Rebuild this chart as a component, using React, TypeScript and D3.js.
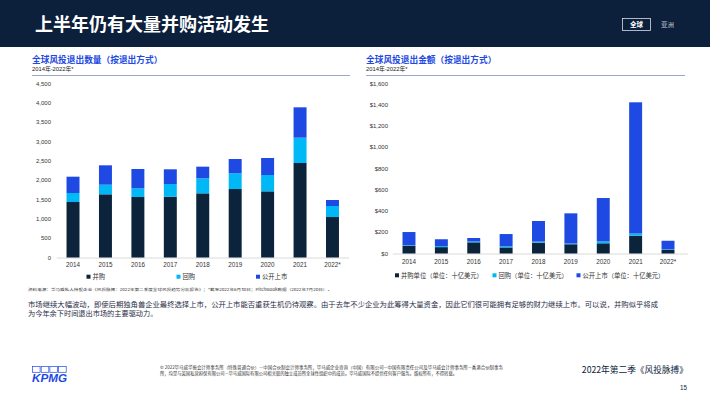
import * as d3 from 'd3';
import {useEffect, useRef} from 'react';

const years = ['2014', '2015', '2016', '2017', '2018', '2019', '2020', '2021', '2022*'];

// 退出数量
const countMA = [1435, 1634, 1565, 1573, 1659, 1771, 1711, 2444, 1047];
const countBuyback = [233, 249, 224, 327, 389, 406, 422, 655, 285];
const countIPO = [422, 501, 500, 381, 301, 370, 440, 785, 155];
const countTicks = [0, 500, 1000, 1500, 2000, 2500, 3000, 3500, 4000, 4500];

// 退出金额（十亿美元）
const valueMA = [73, 60, 105, 57, 102, 87, 96, 168, 33];
const valueBuyback = [5, 10, 8, 12, 10, 7, 18, 20, 5];
const valueIPO = [124, 64, 33, 114, 194, 284, 408, 1235, 82];
const valueTicks = [0, 200, 400, 600, 800, 1000, 1200, 1400, 1600];

const countLegend = ['并购', '回购', '公开上市'];
const valueLegend = ['并购单位（单位：十亿美元）', '回购（单位：十亿美元）', '公开上市（单位：十亿美元）'];

const colors = ['#0c233c', '#00b8f5', '#1e49e2'];
const FONT = '"Liberation Sans", "Noto Sans CJK SC", sans-serif';
const CJK = '"Noto Sans CJK SC", "Liberation Sans", sans-serif';

type Opts = {
	left: number;
	right: number;
	top: number;
	bottom: number;
	max: number;
	ticks: number[];
	fmt: (v: number) => string;
	series: number[][];
	legend: string[];
	legendX: number[];
	legendY: number;
	labelY: number;
	labelX: number;
	baseEnd: number;
};

function drawChart(svg: d3.Selection<SVGSVGElement, unknown, null, undefined>, o: Opts) {
	const g = svg.append('g');
	const rows = years.map((y, i) => ({year: y, a: o.series[0][i], b: o.series[1][i], c: o.series[2][i]}));
	const stack = d3.stack<any>().keys(['a', 'b', 'c'])(rows);

	const x = d3.scaleBand().domain(years).range([o.left, o.right]).paddingInner(0.6).paddingOuter(0.3);
	const y = d3.scaleLinear().domain([0, o.max]).range([o.bottom, o.top]);

	g.selectAll('.tick')
		.data(o.ticks)
		.join('text')
		.attr('x', o.labelX)
		.attr('y', (d) => y(d))
		.attr('dy', '0.35em')
		.attr('text-anchor', 'end')
		.style('font-size', '6px')
		.style('fill', '#333')
		.text((d) => o.fmt(d));

	g.append('line')
		.attr('x1', o.left)
		.attr('x2', o.baseEnd)
		.attr('y1', y(0) + 0.5)
		.attr('y2', y(0) + 0.5)
		.attr('stroke', '#d0d0d0')
		.attr('stroke-width', 0.8);

	g.selectAll('.layer')
		.data(stack)
		.join('g')
		.attr('fill', (_, i) => colors[i])
		.selectAll('rect')
		.data((d) => d)
		.join('rect')
		.attr('x', (d: any) => x(d.data.year)!)
		.attr('y', (d) => y(d[1]))
		.attr('width', x.bandwidth())
		.attr('height', (d) => y(d[0]) - y(d[1]));

	g.selectAll('.xl')
		.data(years)
		.join('text')
		.attr('x', (d) => x(d)! + x.bandwidth() / 2)
		.attr('y', o.labelY)
		.attr('dy', '0.35em')
		.attr('text-anchor', 'middle')
		.style('font-size', '6.3px')
		.style('fill', '#333')
		.text((d) => d);

	const lg = g.selectAll('.lg').data(o.legend).join('g');
	lg.append('rect')
		.attr('x', (_, i) => o.legendX[i])
		.attr('y', o.legendY - 2)
		.attr('width', 4)
		.attr('height', 4)
		.attr('fill', (_, i) => colors[i]);
	lg.append('text')
		.attr('x', (_, i) => o.legendX[i] + 6)
		.attr('y', o.legendY)
		.attr('dy', '0.35em')
		.style('font-family', CJK)
		.style('font-size', '6.3px')
		.style('fill', '#333')
		.text((d) => d);
}

export default function App() {
	const svgRef = useRef<SVGSVGElement>(null);

	useEffect(() => {
		const svg = d3.select(svgRef.current!);
		svg.selectAll('*').remove();
		svg.style('font-family', FONT);

		svg.append('rect').attr('width', 710).attr('height', 399).attr('fill', '#fff');

		// header
		svg.append('rect').attr('width', 710).attr('height', 47).attr('fill', '#0c1f3b');
		svg.append('text')
			.attr('x', 35)
			.attr('y', 25)
			.attr('dy', '0.35em')
			.style('font-family', CJK)
			.style('font-size', '18px')
			.style('font-weight', 'bold')
			.style('fill', '#fff')
			.text('上半年仍有大量并购活动发生');
		svg.append('rect')
			.attr('x', 622.5)
			.attr('y', 18.5)
			.attr('width', 28)
			.attr('height', 12)
			.attr('fill', 'none')
			.attr('stroke', '#d8dde6')
			.attr('stroke-width', 0.8);
		svg.append('text')
			.attr('x', 636.5)
			.attr('y', 24.5)
			.attr('dy', '0.35em')
			.attr('text-anchor', 'middle')
			.style('font-family', CJK)
			.style('font-size', '6.5px')
			.style('font-weight', 'bold')
			.style('fill', '#fff')
			.text('全球');
		svg.append('text')
			.attr('x', 667.5)
			.attr('y', 24.5)
			.attr('dy', '0.35em')
			.attr('text-anchor', 'middle')
			.style('font-family', CJK)
			.style('font-size', '6.5px')
			.style('fill', '#c8cdd6')
			.text('亚洲');

		// chart titles
		const titles = [
			{x: 32, text: '全球风投退出数量（按退出方式）', end: 350},
			{x: 366, text: '全球风投退出金额（按退出方式）', end: 685},
		];
		titles.forEach((t) => {
			svg.append('text')
				.attr('x', t.x)
				.attr('y', 59.5)
				.attr('dy', '0.35em')
				.style('font-family', CJK)
				.style('font-size', '8.7px')
				.style('font-weight', 'bold')
				.style('fill', '#1e49e2')
				.text(t.text);
			svg.append('text')
				.attr('x', t.x)
				.attr('y', 69)
				.attr('dy', '0.35em')
				.style('font-size', '5.8px')
				.style('fill', '#222')
				.text('2014年-2022年*');
			svg.append('line')
				.attr('x1', t.x)
				.attr('x2', t.end)
				.attr('y1', 75.5)
				.attr('y2', 75.5)
				.attr('stroke', '#7d8fc8')
				.attr('stroke-width', 0.8);
		});

		drawChart(svg as any, {
			left: 56.8,
			right: 348.7,
			top: 83.5,
			bottom: 257.5,
			max: 4500,
			ticks: countTicks,
			fmt: d3.format(','),
			series: [countMA, countBuyback, countIPO],
			legend: countLegend,
			legendX: [86.5, 176.5, 256],
			legendY: 276.7,
			labelY: 264.5,
			labelX: 51,
			baseEnd: 349,
		});

		drawChart(svg as any, {
			left: 392.8,
			right: 684.2,
			top: 83.5,
			bottom: 253.5,
			max: 1600,
			ticks: valueTicks,
			fmt: (v) => '$' + d3.format(',')(v),
			series: [valueMA, valueBuyback, valueIPO],
			legend: valueLegend,
			legendX: [395, 492.5, 576.5],
			legendY: 275.3,
			labelY: 262,
			labelX: 388,
			baseEnd: 688,
		});

		// source + paragraph
		svg.append('text')
			.attr('x', 28)
			.attr('y', 290)
			.attr('dy', '0.35em')
			.attr('textLength', 304)
			.attr('lengthAdjust', 'spacingAndGlyphs')
			.style('font-family', CJK)
			.style('font-size', '3.8px')
			.style('fill', '#333')
			.text('资料来源：毕马威私人持股企业《风投脉搏：2022年第二季度全球风投趋势分析报告》；*截至2022年6月30日；PitchBook数据（2022年7月20日）。');

		const para = [
			'市场继续大幅波动，即使后期独角兽企业最终选择上市，公开上市能否重获生机仍待观察。由于去年不少企业为此筹得大量资金，因此它们很可能拥有足够的财力继续上市。可以说，并购似乎将成',
			'为今年余下时间退出市场的主要驱动力。',
		];
		para.forEach((t, i) => {
			const txt = svg.append('text')
				.attr('x', 28)
				.attr('y', 304.8 + i * 8.8)
				.attr('dy', '0.35em')
				.style('font-family', CJK)
				.style('font-size', '7.2px')
				.style('fill', '#1f2d45')
				.text(t);
			if (i === 0) txt.attr('textLength', 630).attr('lengthAdjust', 'spacingAndGlyphs');
		});

		// footer
		const logo = svg.append('g');
		[0, 1, 2, 3].forEach((i) => {
			logo.append('rect')
				.attr('x', 32.5 + i * 8.7)
				.attr('y', 366.5)
				.attr('width', 7.6)
				.attr('height', 5.8)
				.attr('fill', 'none')
				.attr('stroke', '#1e49e2')
				.attr('stroke-width', 0.7);
		});
		logo.append('text')
			.attr('x', 32)
			.attr('y', 381.8)
			.attr('textLength', 35)
			.attr('lengthAdjust', 'spacingAndGlyphs')
			.style('font-size', '11px')
			.style('font-weight', 'bold')
			.style('font-style', 'italic')
			.style('fill', '#1e49e2')
			.text('KPMG');

		const legal = [
			'© 2022毕马威华振会计师事务所（特殊普通合伙）—中国合伙制会计师事务所，毕马威企业咨询（中国）有限公司—中国有限责任公司及毕马威会计师事务所—香港合伙制事务',
			'所，均是与英国私营担保有限公司—毕马威国际有限公司相关联的独立成员所全球性组织中的成员。毕马威国际不提供任何客户服务。版权所有，不得转载。',
		];
		legal.forEach((t, i) => {
			svg.append('text')
				.attr('x', 160)
				.attr('y', 368 + i * 5.2)
				.attr('dy', '0.35em')
				.attr('textLength', i === 0 ? 343 : 297)
				.attr('lengthAdjust', 'spacingAndGlyphs')
				.style('font-family', CJK)
				.style('font-size', '4.2px')
				.style('fill', '#333')
				.text(t);
		});

		svg.append('text')
			.attr('x', 688)
			.attr('y', 370)
			.attr('dy', '0.35em')
			.attr('text-anchor', 'end')
			.style('font-family', CJK)
			.style('font-size', '8.7px')
			.style('fill', '#0c233c')
			.text('2022年第二季《风投脉搏》');
		svg.append('text')
			.attr('x', 687)
			.attr('y', 388)
			.attr('dy', '0.35em')
			.attr('text-anchor', 'end')
			.style('font-size', '6.3px')
			.style('fill', '#0c233c')
			.text('15');
	}, []);

	return <svg ref={svgRef} width={710} height={399} style={{position: 'absolute', left: 0, top: 0}} />;
}
